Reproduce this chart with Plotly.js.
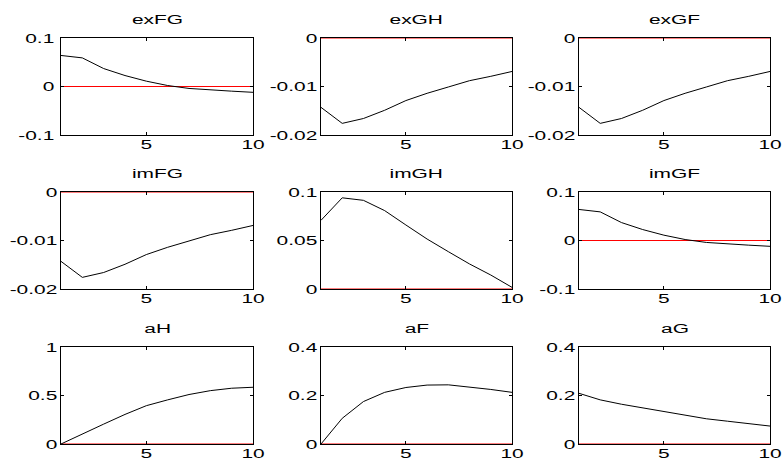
<!DOCTYPE html>
<html>
<head>
<meta charset="utf-8">
<script src="https://cdn.plot.ly/plotly-3.0.1.min.js"></script>
<style>html,body{margin:0;padding:0;background:#fff;}#chart{width:782px;height:464px;}</style>
</head>
<body>
<div id="chart"></div>
<script>
// Horizon (x values)
var periods = [1, 2, 3, 4, 5, 6, 7, 8, 9, 10];

// Panel titles
var panelTitles = ["exFG", "exGH", "exGF", "imFG", "imGH", "imGF", "aH", "aF", "aG"];

// Series values
var exFG = [0.064, 0.059, 0.037, 0.0226, 0.011, 0.002, -0.004, -0.0075, -0.0096, -0.012];
var exGH = [-0.0143, -0.0176, -0.0166, -0.0149, -0.0129, -0.0114, -0.0101, -0.0088, -0.0079, -0.0069];
var exGF = [-0.0143, -0.0176, -0.0166, -0.0149, -0.0129, -0.0114, -0.0101, -0.0088, -0.0079, -0.0069];
var imFG = [-0.0143, -0.0176, -0.0166, -0.0149, -0.0129, -0.0114, -0.0101, -0.0088, -0.0079, -0.0069];
var imGH = [0.0708, 0.094, 0.0914, 0.0808, 0.066, 0.0515, 0.0385, 0.0258, 0.0144, 0.0017];
var imGF = [0.064, 0.059, 0.037, 0.0226, 0.011, 0.002, -0.004, -0.0075, -0.0096, -0.012];
var aH = [0.0, 0.105, 0.205, 0.305, 0.395, 0.455, 0.51, 0.55, 0.575, 0.585];
var aF = [0.0, 0.106, 0.175, 0.213, 0.233, 0.243, 0.244, 0.235, 0.225, 0.213];
var aG = [0.209, 0.182, 0.164, 0.149, 0.134, 0.119, 0.104, 0.094, 0.085, 0.074];
var zeroLine = [0, 0, 0, 0, 0, 0, 0, 0, 0, 0];

// Axis ranges and tick values per panel
var yRanges = [[-0.1, 0.1], [-0.02, 0], [-0.02, 0], [-0.02, 0], [0, 0.1], [-0.1, 0.1], [0, 1], [0, 0.4], [0, 0.4]];
var yTicks = [[-0.1, 0, 0.1], [-0.02, -0.01, 0], [-0.02, -0.01, 0], [-0.02, -0.01, 0], [0, 0.05, 0.1], [-0.1, 0, 0.1], [0, 0.5, 1], [0, 0.2, 0.4], [0, 0.2, 0.4]];
var yTickText = [["-0.1", "0", "0.1"], ["-0.02", "-0.01", "0"], ["-0.02", "-0.01", "0"], ["-0.02", "-0.01", "0"], ["0", "0.05", "0.1"], ["-0.1", "0", "0.1"], ["0", "0.5", "1"], ["0", "0.2", "0.4"], ["0", "0.2", "0.4"]];
var xTicks = [5, 10];
var xTickText = ["5", "10"];

var series = [exFG, exGH, exGF, imFG, imGH, imGF, aH, aF, aG];

var W = 782, H = 464;
var colPx = [[61, 253], [321, 512], [579, 770]];
var rowPx = [[38, 135], [192, 289], [347, 444]];
var TEXT_STRETCH = 1.55;

var traces = [];
var layout = {
  width: W, height: H,
  margin: {l: 0, r: 0, t: 0, b: 0},
  paper_bgcolor: "#ffffff",
  plot_bgcolor: "#ffffff",
  showlegend: false,
  font: {family: "Liberation Sans, Arial, sans-serif", size: 13.5, color: "#000"},
  annotations: []
};

for (var i = 0; i < 9; i++) {
  var r = Math.floor(i / 3), c = i % 3;
  var n = i + 1;
  var xa = "x" + (n === 1 ? "" : n), ya = "y" + (n === 1 ? "" : n);
  var xKey = "xaxis" + (n === 1 ? "" : n), yKey = "yaxis" + (n === 1 ? "" : n);
  traces.push({x: periods, y: zeroLine, xaxis: xa, yaxis: ya, mode: "lines",
    line: {color: "#ff0000", width: 1}, hoverinfo: "skip", cliponaxis: false});
  traces.push({x: periods, y: series[i], xaxis: xa, yaxis: ya, mode: "lines",
    line: {color: "#000000", width: 1}, cliponaxis: false});
  var xd = [colPx[c][0] / W, colPx[c][1] / W];
  var yd = [1 - rowPx[r][1] / H, 1 - rowPx[r][0] / H];
  layout[xKey] = {
    domain: xd, anchor: ya, range: [1, 10], tickvals: xTicks, ticktext: xTickText,
    ticks: "inside", ticklen: 3, tickcolor: "#000", showgrid: false, zeroline: false,
    showline: true, linecolor: "#000", linewidth: 1, mirror: "ticks",
    ticklabelstandoff: -3,
    tickfont: {size: 13.5, color: "#000"}, fixedrange: true
  };
  layout[yKey] = {
    domain: yd, anchor: xa, range: yRanges[i], tickvals: yTicks[i], ticktext: yTickText[i],
    ticks: "inside", ticklen: 3, tickcolor: "#000", showgrid: false, zeroline: false,
    showline: true, linecolor: "#000", linewidth: 1, mirror: "ticks",
    tickfont: {size: 13.5, color: "#000"}, fixedrange: true
  };
  layout.annotations.push({
    text: panelTitles[i], xref: "paper", yref: "paper",
    x: (xd[0] + xd[1]) / 2, y: yd[1], xanchor: "center", yanchor: "bottom",
    yshift: 9, showarrow: false, font: {size: 13.5, color: "#000"}
  });
}

Plotly.newPlot("chart", traces, layout, {displayModeBar: false, staticPlot: true}).then(function (gd) {
  // The reference's text is horizontally wide; stretch each text around its anchor point.
  var texts = gd.querySelectorAll("svg text");
  texts.forEach(function (t) {
    var x = parseFloat(t.getAttribute("x")) || 0;
    var prev = t.getAttribute("transform") || "";
    var isY = t.parentNode && t.parentNode.getAttribute("class") &&
      t.parentNode.getAttribute("class").indexOf("ytick") >= 0;
    var extra = isY ? " translate(-3,0)" : "";
    t.setAttribute("transform", prev + extra + " translate(" + x + ",0) scale(" + TEXT_STRETCH + ",1) translate(" + (-x) + ",0)");
  });
});
</script>
</body>
</html>
